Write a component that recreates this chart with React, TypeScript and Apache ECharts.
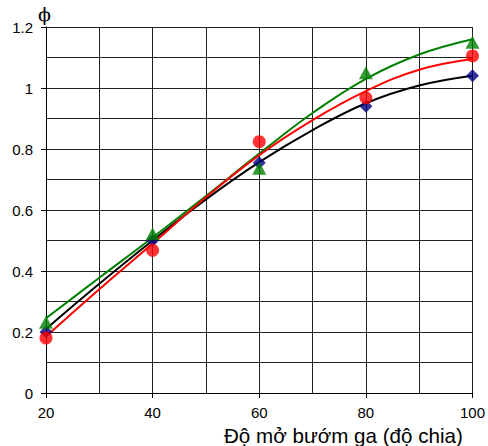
import React, { useEffect, useRef } from "react";
import * as echarts from "echarts";

const xValues = [20, 40, 60, 80, 100];
const diamondValues = [0.2, 0.5, 0.755, 0.94, 1.04];
const circleValues = [0.18, 0.468, 0.824, 0.968, 1.105];
const triangleValues = [0.232, 0.522, 0.737, 1.05, 1.15];

const curveX = [20, 30, 40, 50, 60, 70, 80, 90, 100];
const blackCurve = [0.21, 0.358, 0.5, 0.635, 0.757, 0.862, 0.95, 1.008, 1.04];
const redCurve = [0.185, 0.34, 0.49, 0.642, 0.78, 0.895, 0.99, 1.06, 1.095];
const greenCurve = [0.245, 0.378, 0.51, 0.646, 0.785, 0.918, 1.03, 1.11, 1.16];

const xTitle = "Độ mở bướm ga (độ chia)";
const yTitle = "ϕ";

const pairs = (xs: number[], ys: number[]) => xs.map((x, i) => [x, ys[i]]);

export default function App() {
  const ref = useRef<HTMLDivElement>(null);
  useEffect(() => {
    if (!ref.current) return;
    const chart = echarts.init(ref.current, null, { renderer: "svg" });
    const gridLine = { show: true, lineStyle: { color: "#222", width: 1 } };
    const labelStyle = { color: "#000", fontSize: 15, fontFamily: "Liberation Sans, Arial, sans-serif" };
    chart.setOption({
      animation: false,
      grid: { left: 46, right: 14, top: 27, bottom: 53 },
      xAxis: {
        type: "value",
        min: 20,
        max: 100,
        interval: 20,
        axisLine: { show: true, lineStyle: { color: "#000", width: 1 } },
        axisTick: { show: true, length: 5, lineStyle: { color: "#000" } },
        axisLabel: { ...labelStyle, margin: 12 },
        splitLine: gridLine,
        minorTick: { show: false, splitNumber: 2 },
        minorSplitLine: gridLine,
      },
      yAxis: {
        type: "value",
        min: 0,
        max: 1.2,
        interval: 0.2,
        axisLine: { show: true, lineStyle: { color: "#000", width: 1 } },
        axisTick: { show: true, length: 5, lineStyle: { color: "#000" } },
        axisLabel: { ...labelStyle, margin: 13 },
        splitLine: gridLine,
        minorTick: { show: false, splitNumber: 2 },
        minorSplitLine: gridLine,
      },
      graphic: [
        {
          type: "text",
          left: 224,
          top: 425,
          style: { text: xTitle, fontSize: 20.6, fill: "#000", fontFamily: "Liberation Sans, Arial, sans-serif" },
        },
        {
          type: "text",
          left: 38,
          top: 4,
          style: { text: yTitle, fontSize: 19, fill: "#000", fontFamily: "DejaVu Serif, serif" },
        },
      ],
      series: [
        {
          type: "line",
          data: pairs(curveX, blackCurve),
          smooth: 0.4,
          showSymbol: false,
          lineStyle: { color: "#000", width: 2 },
          z: 2,
        },
        {
          type: "line",
          data: pairs(curveX, greenCurve),
          smooth: 0.4,
          showSymbol: false,
          lineStyle: { color: "#008000", width: 2 },
          z: 2,
        },
        {
          type: "line",
          data: pairs(curveX, redCurve),
          smooth: 0.4,
          showSymbol: false,
          lineStyle: { color: "#ff0000", width: 2 },
          z: 2,
        },
        {
          type: "scatter",
          data: pairs(xValues, diamondValues),
          symbol: "diamond",
          symbolSize: [13, 13],
          itemStyle: { color: "#000080" },
          z: 3,
        },
        {
          type: "scatter",
          data: pairs(xValues, triangleValues),
          symbol: "triangle",
          symbolSize: [14, 13],
          itemStyle: { color: "#008000" },
          z: 4,
        },
        {
          type: "scatter",
          data: pairs(xValues, circleValues),
          symbol: "circle",
          symbolSize: 13,
          itemStyle: { color: "#ff0000" },
          z: 5,
        },
      ],
    });
    return () => chart.dispose();
  }, []);
  return (
    <div
      ref={ref}
      style={{ position: "fixed", left: 0, top: 0, width: 488, height: 446, background: "#fff" }}
    />
  );
}
